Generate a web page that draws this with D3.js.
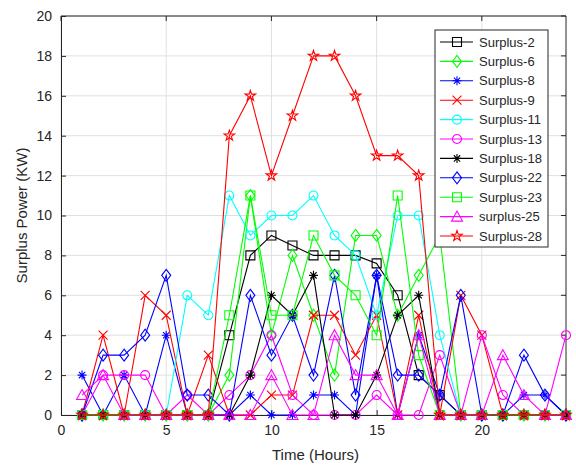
<!DOCTYPE html>
<html>
<head>
<meta charset="utf-8">
<script src="https://cdn.jsdelivr.net/npm/d3@7"></script>
<style>
  html, body { margin: 0; padding: 0; background: #fff; }
  svg { display: block; font-family: "Liberation Sans", Arial, Helvetica, sans-serif; }
</style>
</head>
<body>
<svg id="chart" width="576" height="468"></svg>
<script>
// Hourly surplus power per household (kW)
const hours = [1,2,3,4,5,6,7,8,9,10,11,12,13,14,15,16,17,18,19,20,21,22,23,24];

const surplus2  = [0,0,0,0,0,0,0,4,8,9,8.5,8,8,8,7.6,6,2,1,0,0,0,0,0,0];
const surplus6  = [0,0,0,0,0,0,0,2,11,4,8,5,2,9,9,5,7,9,0,0,0,0,0,0];
const surplus8  = [2,0,2,0,4,0,0,0,1,0,0,1,1,0,7,0,4,1,0,0,0,1,1,0];
const surplus9  = [0,4,0,6,5,0,3,0,0,1,1,5,5,3,5,0,5,0,6,4,0,0,0,0];
const surplus11 = [0,0,0,0,0,6,5,11,9,10,10,11,9,8,5,10,10,4,0,0,0,0,0,0];
const surplus13 = [0,2,2,2,0,1,0,1,2,4,1,0,0,0,1,0,0,3,0,4,1,0,0,4];
const surplus18 = [0,0,0,0,0,0,0,0,2,6,5,7,0,0,2,5,6,0,0,0,0,0,0,0];
const surplus22 = [0,3,3,4,7,1,1,0,6,3,5,2,7,1,7,2,2,1,6,0,0,3,1,0];
const surplus23 = [0,0,0,0,0,0,0,5,11,5,5,9,7,6,4,11,3,0,0,0,0,0,0,0];
const surplus25 = [1,2,0,0,0,0,0,0,0,2,0,0,4,2,2,0,4,0,0,0,3,1,0,0];
const surplus28 = [0,0,0,0,0,0,0,14,16,12,15,18,18,16,13,13,12,0,0,0,0,0,0,0];

const seriesNames  = ["Surplus-2","Surplus-6","Surplus-8","Surplus-9","Surplus-11","Surplus-13",
                      "Surplus-18","Surplus-22","Surplus-23","surplus-25","Surplus-28"];
const seriesValues = [surplus2,surplus6,surplus8,surplus9,surplus11,surplus13,
                      surplus18,surplus22,surplus23,surplus25,surplus28];
const seriesColors = ["#000000","#00ff00","#0000ff","#ff0000","#00ffff","#ff00ff",
                      "#000000","#0000ff","#00ff00","#ff00ff","#ff0000"];
const seriesMarkers = ["square","diamond","asterisk","cross","circle","circle",
                       "asterisk","diamond","square","triangle","star"];

const xTicks = [0,5,10,15,20];
const yTicks = [0,2,4,6,8,10,12,14,16,18,20];

const svg = d3.select("#chart");
const plot = { left: 61, right: 566, top: 16, bottom: 415 };

const x = d3.scaleLinear().domain([0, 24]).range([plot.left, plot.right]);
const y = d3.scaleLinear().domain([0, 20]).range([plot.bottom, plot.top]);

// grid
const grid = svg.append("g");
grid.selectAll("line.gx").data(xTicks).enter().append("line")
  .attr("x1", d => x(d)).attr("x2", d => x(d))
  .attr("y1", plot.top).attr("y2", plot.bottom)
  .attr("stroke", "#e0e0e0").attr("stroke-width", 1);
grid.selectAll("line.gy").data(yTicks).enter().append("line")
  .attr("x1", plot.left).attr("x2", plot.right)
  .attr("y1", d => y(d)).attr("y2", d => y(d))
  .attr("stroke", "#e0e0e0").attr("stroke-width", 1);

// axes
const xAxis = d3.axisBottom(x).tickValues(xTicks).tickSizeInner(-5).tickSizeOuter(0).tickPadding(10);
const yAxis = d3.axisLeft(y).tickValues(yTicks).tickSizeInner(-5).tickSizeOuter(0).tickPadding(9);

const gx = svg.append("g").attr("transform", `translate(0,${plot.bottom})`).call(xAxis);
const gy = svg.append("g").attr("transform", `translate(${plot.left},0)`).call(yAxis);
[gx, gy].forEach(g => {
  g.selectAll("path").attr("stroke", "#262626");
  g.selectAll("line").attr("stroke", "#262626");
  g.selectAll("text").attr("fill", "#262626").style("font-size", "14px");
});
// box top and right
svg.append("line").attr("x1", plot.left).attr("x2", plot.right).attr("y1", plot.top).attr("y2", plot.top)
  .attr("stroke", "#262626");
svg.append("line").attr("x1", plot.right).attr("x2", plot.right).attr("y1", plot.top).attr("y2", plot.bottom)
  .attr("stroke", "#262626");
// ticks on top and right edges
svg.selectAll("line.tt").data(xTicks).enter().append("line")
  .attr("x1", d => x(d)).attr("x2", d => x(d)).attr("y1", plot.top).attr("y2", plot.top + 5)
  .attr("stroke", "#262626");
svg.selectAll("line.tr").data(yTicks).enter().append("line")
  .attr("x1", plot.right - 5).attr("x2", plot.right).attr("y1", d => y(d)).attr("y2", d => y(d))
  .attr("stroke", "#262626");

// axis titles
svg.append("text").attr("x", (plot.left + plot.right) / 2 + 2).attr("y", 460)
  .attr("text-anchor", "middle").attr("fill", "#262626").style("font-size", "15px")
  .text("Time (Hours)");
svg.append("text").attr("transform", `translate(27,${(plot.top + plot.bottom) / 2}) rotate(-90)`)
  .attr("text-anchor", "middle").attr("fill", "#262626").style("font-size", "15px")
  .text("Surplus Power (KW)");

// marker shapes
function markerPath(type) {
  const r = 4.5;
  switch (type) {
    case "square": return `M${-r},${-r}H${r}V${r}H${-r}Z`;
    case "diamond": return `M0,${-r - 1.5}L${r},0L0,${r + 1.5}L${-r},0Z`;
    case "circle": return d3.symbol(d3.symbolCircle, 64)();
    case "triangle": return `M0,${-r - 1}L${r + 1},${r}L${-r - 1},${r}Z`;
    case "cross": return `M${-r},${-r}L${r},${r}M${-r},${r}L${r},${-r}`;
    case "asterisk": return `M0,${-r}V${r}M${-r},0H${r}M${-r * 0.7},${-r * 0.7}L${r * 0.7},${r * 0.7}M${-r * 0.7},${r * 0.7}L${r * 0.7},${-r * 0.7}`;
    case "star": return d3.symbol(d3.symbolStar, 34)();
  }
}

const line = d3.line().x((d, i) => x(hours[i])).y(d => y(d));

const seriesG = svg.append("g");
seriesValues.forEach((vals, k) => {
  const g = seriesG.append("g");
  g.append("path").datum(vals).attr("d", line)
    .attr("fill", "none").attr("stroke", seriesColors[k]).attr("stroke-width", 1.1);
  g.selectAll("path.m").data(vals).enter().append("path")
    .attr("transform", (d, i) => `translate(${x(hours[i])},${y(d)})`)
    .attr("d", markerPath(seriesMarkers[k]))
    .attr("fill", "none").attr("stroke", seriesColors[k]).attr("stroke-width", 1.1);
});

// legend
const lg = svg.append("g").attr("transform", "translate(435,30)");
lg.append("rect").attr("width", 113).attr("height", 217)
  .attr("fill", "#fff").attr("stroke", "#262626").attr("stroke-width", 1);
seriesNames.forEach((name, k) => {
  const yy = 12 + k * 19.4;
  lg.append("line").attr("x1", 5).attr("x2", 38).attr("y1", yy).attr("y2", yy)
    .attr("stroke", seriesColors[k]).attr("stroke-width", 1.1);
  lg.append("path").attr("transform", `translate(22,${yy})`).attr("d", markerPath(seriesMarkers[k]))
    .attr("fill", "none").attr("stroke", seriesColors[k]).attr("stroke-width", 1.1);
  lg.append("text").attr("x", 44).attr("y", yy + 4.5).attr("fill", "#262626")
    .style("font-size", "13px").text(name);
});
</script>
</body>
</html>
